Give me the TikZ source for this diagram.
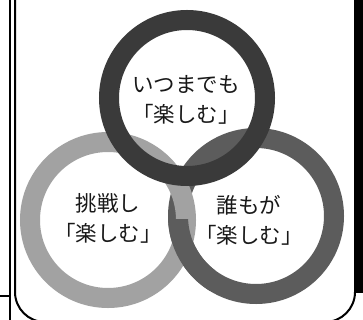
\documentclass[tikz,border=0pt]{standalone}
\usepackage{fontspec}
\newfontfamily\jpfont{Noto Sans CJK JP}
\definecolor{ringTop}{HTML}{3A3A3A}
\definecolor{ringRight}{HTML}{5C5C5C}
\definecolor{ringLeft}{HTML}{A2A2A2}
\tikzset{
  ringband/.style={line width=20pt},
  label/.style={font=\jpfont\fontsize{21.5}{30}\selectfont, align=center, text=black!90, inner sep=0pt},
  frameline/.style={line width=2pt, black},
}
\begin{document}
\begin{tikzpicture}[x=1pt,y=-1pt]
\useasboundingbox (0,0) rectangle (363,320);
\fill[white] (0,0) rectangle (363,320);
% frame
\draw[line width=2.6pt] (9.8,0) -- (9.8,320);
\draw[frameline] (0,295.5) -- (9.8,295.5);
\draw[frameline, rounded corners=30pt] (15,-40) -- (15,322) -- (355,322) -- (355,-40);
\fill[black] (355,0) rectangle (363,293);
% rings
\draw[ringband, ringRight] (256,216) circle[radius=78pt];
\draw[ringband, ringLeft] (108,220) circle[radius=78pt];
\begin{scope}
  \clip (160,219) rectangle (215,290);
  \draw[ringband, ringRight] (256,216) circle[radius=78pt];
\end{scope}
\draw[ringband, ringTop] (187,98) circle[radius=78pt];
% labels
\node[label] (ltop) at (186,100) {いつまでも\\「楽しむ」};
\node[label] (lleft) at (108,218) {挑戦し\\「楽しむ」};
\node[label] (lright) at (249,220) {誰もが\\「楽しむ」};
\end{tikzpicture}
\end{document}
